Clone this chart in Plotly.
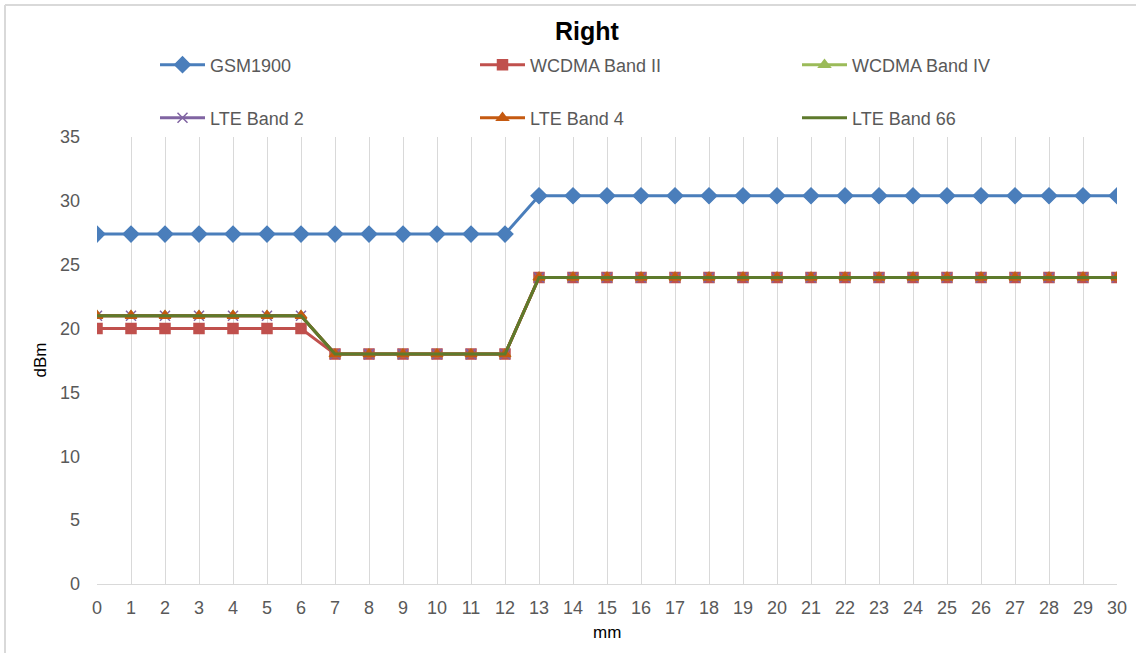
import plotly.graph_objects as go

x_mm = list(range(0, 31))
gsm1900 = [27.4] * 13 + [30.4] * 18
wcdma_b2 = [20] * 7 + [18] * 6 + [24] * 18
wcdma_b4 = [21] * 7 + [18] * 6 + [24] * 18
lte_b2 = [21] * 7 + [18] * 6 + [24] * 18
lte_b4 = [21] * 7 + [18] * 6 + [24] * 18
lte_b66 = [21] * 7 + [18] * 6 + [24] * 18

series = [
    ("GSM1900", gsm1900, "#4A7EBB", "diamond", 12),
    ("WCDMA Band II", wcdma_b2, "#C0504D", "square", 10),
    ("WCDMA Band IV", wcdma_b4, "#9BBB59", "triangle-up", 10),
    ("LTE Band 2", lte_b2, "#8064A2", "x-thin", 10),
    ("LTE Band 4", lte_b4, "#C55A11", "triangle-up", 10),
    ("LTE Band 66", lte_b66, "#5E7A2C", None, 0),
]

# legend slot positions (container pixels: left edge, row centre)
legend_cols = [155, 475, 797]
legend_rows = [65, 118]

W, H = 1136, 653
ML, MR, MT, MB = 97, 19, 137, 69
PW, PH = W - ML - MR, H - MT - MB

fig = go.Figure()
font = "Liberation Sans, Arial, sans-serif"
legend_layout = {}
for i, (name, vals, color, sym, size) in enumerate(series):
    key = "legend" if i == 0 else f"legend{i + 1}"
    if sym is None:
        fig.add_trace(go.Scatter(x=x_mm, y=vals, name=name, mode="lines",
                                 line=dict(color=color, width=3), legend=key))
    else:
        fig.add_trace(go.Scatter(x=x_mm, y=vals, name=name, mode="lines+markers",
                                 line=dict(color=color, width=3),
                                 marker=dict(symbol=sym, size=size, color=color,
                                             line=dict(color=color, width=1.5)),
                                 legend=key))
    col = legend_cols[i % 3]
    row = legend_rows[i // 3]
    legend_layout[key] = dict(xref="container", yref="container",
                              x=col / W, y=1 - row / H,
                              xanchor="left", yanchor="middle",
                              itemwidth=45,
                              font=dict(size=18, color="#595959", family=font),
                              bgcolor="rgba(0,0,0,0)")

fig.update_layout(
    width=W, height=H,
    margin=dict(l=ML, r=MR, t=MT, b=MB, autoexpand=False),
    paper_bgcolor="white", plot_bgcolor="white",
    font=dict(family=font, color="#595959", size=18),
    title=dict(text="<b>Right</b>", xref="container", x=587 / W, xanchor="center",
               yref="container", y=1 - 31 / H, yanchor="middle",
               font=dict(size=25, color="#000000", family=font)),
    xaxis=dict(range=[0, 30], tickmode="array", tickvals=x_mm,
               ticktext=[str(v) for v in x_mm],
               showgrid=True, gridcolor="#D9D9D9", gridwidth=1,
               showline=True, linecolor="#D9D9D9", linewidth=1,
               zeroline=False, ticks="", ticklabelstandoff=7,
               tickfont=dict(size=18, color="#595959")),
    yaxis=dict(range=[0, 35], tickmode="array", tickvals=[0, 5, 10, 15, 20, 25, 30, 35],
               showgrid=False, zeroline=False, showline=False, ticks="",
               ticklabelstandoff=16,
               tickfont=dict(size=18, color="#595959")),
    showlegend=True,
    annotations=[
        dict(text="mm", xref="paper", yref="paper", x=0.5, y=-(632 - (H - MB)) / PH,
             xanchor="center", yanchor="middle", showarrow=False,
             font=dict(size=17, color="#000000", family=font)),
        dict(text="dBm", xref="paper", yref="paper", x=(40 - ML) / PW, y=0.5,
             xanchor="center", yanchor="middle", showarrow=False, textangle=-90,
             font=dict(size=17, color="#000000", family=font)),
    ],
    **legend_layout,
)

# outer chart border (top and left edges visible in the reference)
fig.add_shape(type="line", xref="paper", yref="paper", x0=(5 - ML) / PW, x1=1.03,
              y0=(H - MB - 5) / PH, y1=(H - MB - 5) / PH,
              line=dict(color="#D9D9D9", width=2))
fig.add_shape(type="line", xref="paper", yref="paper", x0=(5 - ML) / PW, x1=(5 - ML) / PW,
              y0=(H - MB - 5) / PH, y1=-0.16, line=dict(color="#D9D9D9", width=2))

fig.write_html("out.html", config={"displayModeBar": False},
               post_script="document.body.style.margin='0';")
